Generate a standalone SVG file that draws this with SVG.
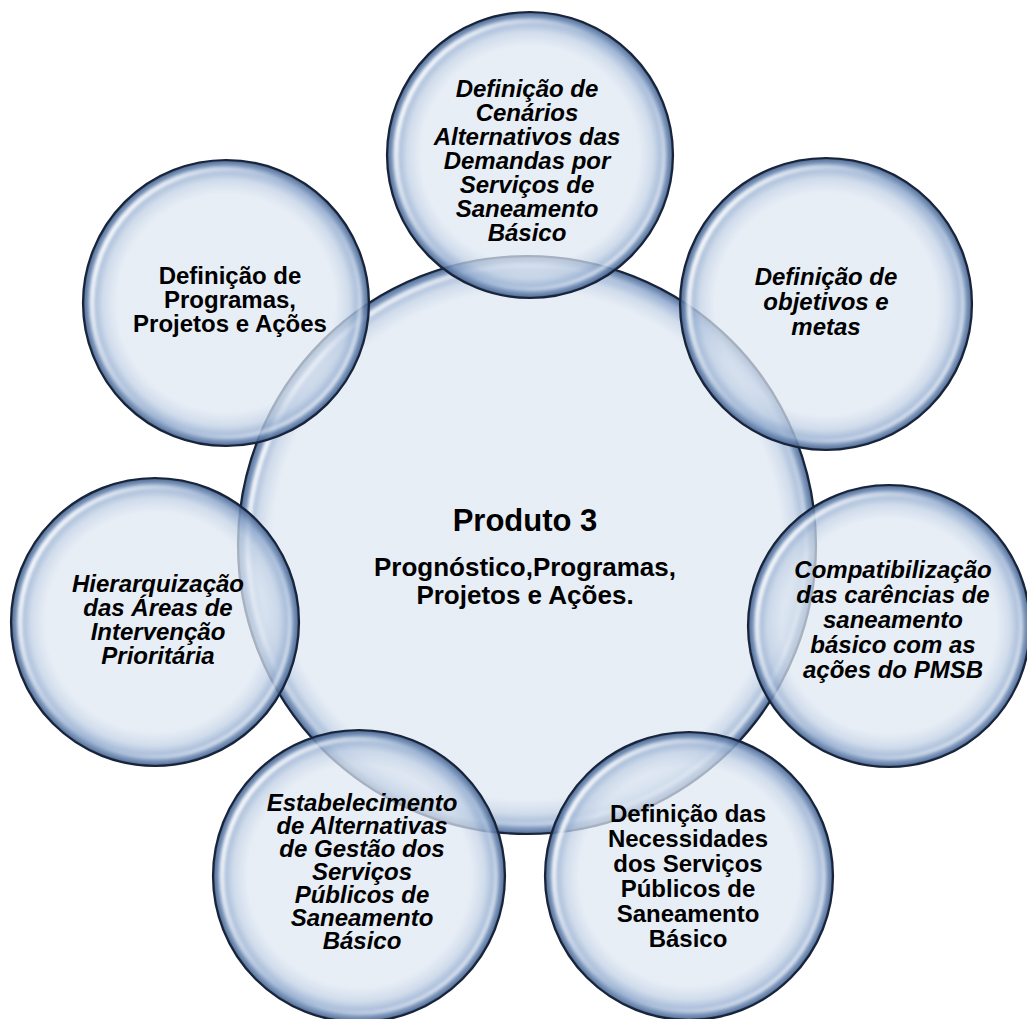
<svg xmlns="http://www.w3.org/2000/svg" width="1027" height="1019" viewBox="0 0 1027 1019">
<defs>
<radialGradient id="bub" cx="50%" cy="50%" r="50%">
<stop offset="0" stop-color="#dee7f2" stop-opacity="0.72"/>
<stop offset="0.76" stop-color="#dee7f2" stop-opacity="0.72"/>
<stop offset="0.86" stop-color="#c3d2e6" stop-opacity="0.78"/>
<stop offset="0.94" stop-color="#8aa5cb" stop-opacity="0.85"/>
<stop offset="0.985" stop-color="#52709c" stop-opacity="0.9"/>
<stop offset="1" stop-color="#2c3f60" stop-opacity="1"/>
</radialGradient>
<radialGradient id="bubC" cx="50%" cy="50%" r="50%">
<stop offset="0" stop-color="#dee7f2" stop-opacity="0.72"/>
<stop offset="0.88" stop-color="#dee7f2" stop-opacity="0.72"/>
<stop offset="0.93" stop-color="#c3d2e6" stop-opacity="0.78"/>
<stop offset="0.97" stop-color="#8aa5cb" stop-opacity="0.85"/>
<stop offset="0.993" stop-color="#52709c" stop-opacity="0.9"/>
<stop offset="1" stop-color="#2c3f60" stop-opacity="1"/>
</radialGradient>
<linearGradient id="gloss" x1="0" y1="0.3" x2="0.45" y2="0.55">
<stop offset="0" stop-color="#ffffff" stop-opacity="0.95"/>
<stop offset="0.35" stop-color="#ffffff" stop-opacity="0.6"/>
<stop offset="1" stop-color="#ffffff" stop-opacity="0"/>
</linearGradient>
<linearGradient id="gloss2" x1="1" y1="0.8" x2="0.6" y2="0.5">
<stop offset="0" stop-color="#ffffff" stop-opacity="0.7"/>
<stop offset="1" stop-color="#ffffff" stop-opacity="0"/>
</linearGradient>
<filter id="soft" x="-10%" y="-10%" width="120%" height="120%">
<feGaussianBlur stdDeviation="1.5"/>
</filter>
</defs>
<style>
.b{fill:url(#bub);stroke:#18243a;stroke-width:2.2}
.bc{fill:url(#bubC);stroke:#18243a;stroke-width:2.2}
.g{fill:none;stroke:url(#gloss);stroke-width:5;filter:url(#soft)}
.g2{fill:none;stroke:url(#gloss2);stroke-width:4;filter:url(#soft)}
.t{font-family:"Liberation Sans",Arial,sans-serif;font-weight:bold;font-size:24px;fill:#000;text-anchor:middle}
.i{font-style:italic}
</style>
<rect width="1027" height="1019" fill="#ffffff"/>

<g id="center">
<circle class="bc" cx="527" cy="545" r="289"/>
<circle class="g" cx="527" cy="545" r="279"/>
<circle class="g2" cx="527" cy="545" r="279"/>
</g>

<g id="node-top">
<circle class="b" cx="530" cy="155" r="143"/>
<circle class="g" cx="530" cy="155" r="134"/>
<circle class="g2" cx="530" cy="155" r="134"/>
</g>
<g id="node-top-right">
<circle class="b" cx="826" cy="304" r="146"/>
<circle class="g" cx="826" cy="304" r="137"/>
<circle class="g2" cx="826" cy="304" r="137"/>
</g>
<g id="node-right">
<circle class="b" cx="889" cy="626" r="141"/>
<circle class="g" cx="889" cy="626" r="132"/>
<circle class="g2" cx="889" cy="626" r="132"/>
</g>
<g id="node-bottom-right">
<circle class="b" cx="689" cy="876" r="144"/>
<circle class="g" cx="689" cy="876" r="135"/>
<circle class="g2" cx="689" cy="876" r="135"/>
</g>
<g id="node-bottom-left">
<circle class="b" cx="359" cy="876" r="146"/>
<circle class="g" cx="359" cy="876" r="137"/>
<circle class="g2" cx="359" cy="876" r="137"/>
</g>
<g id="node-left">
<circle class="b" cx="155" cy="622" r="144"/>
<circle class="g" cx="155" cy="622" r="135"/>
<circle class="g2" cx="155" cy="622" r="135"/>
</g>
<g id="node-top-left">
<circle class="b" cx="226" cy="303" r="143"/>
<circle class="g" cx="226" cy="303" r="134"/>
<circle class="g2" cx="226" cy="303" r="134"/>
</g>

<g id="labels">
<text class="t" x="525" y="531" style="font-size:31px">Produto 3</text>
<text class="t" style="font-size:26px"><tspan x="525" y="576">Prognóstico,Programas,</tspan><tspan x="525" y="604">Projetos e Ações.</tspan></text>

<text class="t i"><tspan x="527" y="97">Definição de</tspan><tspan x="527" y="121">Cenários</tspan><tspan x="527" y="145">Alternativos das</tspan><tspan x="527" y="169">Demandas por</tspan><tspan x="527" y="193">Serviços de</tspan><tspan x="527" y="217">Saneamento</tspan><tspan x="527" y="241">Básico</tspan></text>

<text class="t i"><tspan x="826" y="285">Definição de</tspan><tspan x="826" y="310">objetivos e</tspan><tspan x="826" y="335">metas</tspan></text>

<text class="t i"><tspan x="893" y="578">Compatibilização</tspan><tspan x="893" y="603">das carências de</tspan><tspan x="893" y="628">saneamento</tspan><tspan x="893" y="653">básico com as</tspan><tspan x="893" y="678">ações do PMSB</tspan></text>

<text class="t"><tspan x="688" y="822">Definição das</tspan><tspan x="688" y="847">Necessidades</tspan><tspan x="688" y="872">dos Serviços</tspan><tspan x="688" y="897">Públicos de</tspan><tspan x="688" y="922">Saneamento</tspan><tspan x="688" y="947">Básico</tspan></text>

<text class="t i"><tspan x="362" y="811">Estabelecimento</tspan><tspan x="362" y="834">de Alternativas</tspan><tspan x="362" y="857">de Gestão dos</tspan><tspan x="362" y="880">Serviços</tspan><tspan x="362" y="903">Públicos de</tspan><tspan x="362" y="926">Saneamento</tspan><tspan x="362" y="949">Básico</tspan></text>

<text class="t i"><tspan x="158" y="592">Hierarquização</tspan><tspan x="158" y="616">das Áreas de</tspan><tspan x="158" y="640">Intervenção</tspan><tspan x="158" y="664">Prioritária</tspan></text>

<text class="t"><tspan x="230" y="284">Definição de</tspan><tspan x="230" y="308">Programas,</tspan><tspan x="230" y="332">Projetos e Ações</tspan></text>
</g>
</svg>
